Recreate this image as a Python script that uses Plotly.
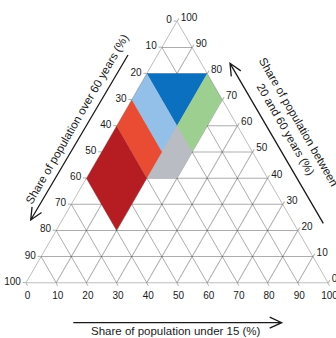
import plotly.graph_objects as go

# Tick values (share in %) and their printed labels
tick_vals = [0, 10, 20, 30, 40, 50, 60, 70, 80, 90, 100]
tick_text_rev = [str(100 - v) for v in tick_vals]

# Region polygons: a = share between 20 and 60 years (top vertex),
# b = share over 60 years (bottom-left), c = share under 15 (bottom-right)
dark_blue_a = [80, 80, 60]
dark_blue_b = [20, 0, 20]
dark_blue_c = [0, 20, 20]

light_blue_a = [80, 70, 50, 60]
light_blue_b = [20, 30, 30, 20]
light_blue_c = [0, 0, 20, 20]

green_a = [80, 70, 50, 60]
green_b = [0, 0, 20, 20]
green_c = [20, 30, 30, 20]

gray_a = [60, 50, 40, 40]
gray_b = [20, 20, 30, 40]
gray_c = [20, 30, 30, 20]

orange_a = [70, 60, 40, 50]
orange_b = [30, 40, 40, 30]
orange_c = [0, 0, 20, 20]

dark_red_a = [60, 40, 20, 40]
dark_red_b = [40, 60, 60, 40]
dark_red_c = [0, 0, 20, 20]

regions = [
    (dark_blue_a, dark_blue_b, dark_blue_c, "#0a70bf"),
    (light_blue_a, light_blue_b, light_blue_c, "#92c0e8"),
    (green_a, green_b, green_c, "#9ccf90"),
    (gray_a, gray_b, gray_c, "#b9bcc2"),
    (orange_a, orange_b, orange_c, "#ea4c33"),
    (dark_red_a, dark_red_b, dark_red_c, "#b51d23"),
]

W, H = 336, 338
ML, MR, MT, MB = 26, 8, 21, 55


def paper(X, Y):
    """pixel position in the figure -> paper coordinates"""
    return (X - ML) / (W - ML - MR), (H - MB - Y) / (H - MT - MB)


fig = go.Figure()
for a, b, c, col in regions:
    fig.add_trace(go.Scatterternary(
        a=a + [a[0]], b=b + [b[0]], c=c + [c[0]],
        mode="lines", fill="toself", fillcolor=col,
        line=dict(width=0, color=col), hoverinfo="skip", showlegend=False,
    ))

FONT = "Arial, Liberation Sans, sans-serif"
grid = "rgba(60,60,60,0.42)"
axis_common = dict(
    tickmode="array", tickvals=tick_vals, ticktext=tick_text_rev,
    showgrid=True, gridcolor=grid, gridwidth=0.8,
    showline=True, linecolor=grid, linewidth=0.8,
    ticks="outside", ticklen=3, tickcolor=grid, tickwidth=0.8,
    tickfont=dict(family=FONT, size=10, color="#1a1a1a"),
    layer="above traces", title=dict(text=""), min=0,
)

fig.update_layout(
    width=W, height=H,
    margin=dict(l=ML, r=MR, t=MT, b=MB, autoexpand=False),
    paper_bgcolor="white",
    ternary=dict(
        sum=100, bgcolor="white",
        aaxis=axis_common, baxis=axis_common, caxis=axis_common,
    ),
    font=dict(family=FONT, size=10, color="#1a1a1a"),
)

TFONT = dict(family=FONT, size=11.5, color="#1a1a1a")
CENTER = dict(xref="paper", yref="paper", xanchor="center", yanchor="middle",
              showarrow=False, font=TFONT)

# Axis titles
x, y = paper(77, 119)
fig.add_annotation(x=x, y=y, text="Share of population over 60 years (%)",
                   textangle=-60, **CENTER)
x, y = paper(292, 125.5)
fig.add_annotation(x=x, y=y,
                   text="Share of population between<br>20 and 60 years (%)",
                   textangle=60, align="center", **CENTER)
x, y = paper(176, 331)
fig.add_annotation(x=x, y=y, text="Share of population under 15 (%)", **CENTER)

# Open arrows (tail -> tip), pixel positions
arrows = [((128, 55), (30.7, 220)),
          ((323.3, 223.3), (230, 63.3)),
          ((73.3, 322.7), (281.7, 322.7))]
for (tx, ty), (hx, hy) in arrows:
    dx, dy = hx - tx, hy - ty
    n = (dx * dx + dy * dy) ** 0.5
    ux, uy = dx / n, dy / n
    L, Hw = 12, 5.5
    p1 = (hx - L * ux - Hw * uy, hy - L * uy + Hw * ux)
    p2 = (hx - L * ux + Hw * uy, hy - L * uy - Hw * ux)
    pts = [paper(tx, ty), paper(hx, hy), paper(*p1), paper(*p2)]
    path = (f"M{pts[0][0]},{pts[0][1]} L{pts[1][0]},{pts[1][1]} "
            f"M{pts[2][0]},{pts[2][1]} L{pts[1][0]},{pts[1][1]} L{pts[3][0]},{pts[3][1]}")
    fig.add_shape(type="path", xref="paper", yref="paper", path=path,
                  line=dict(color="#1a1a1a", width=1.3))

fig.write_html(
    "out.html",
    config={"displayModeBar": False},
    post_script="document.body.style.margin='0px';"
                "document.body.style.overflow='hidden';"
                "document.documentElement.style.overflow='hidden';",
)
